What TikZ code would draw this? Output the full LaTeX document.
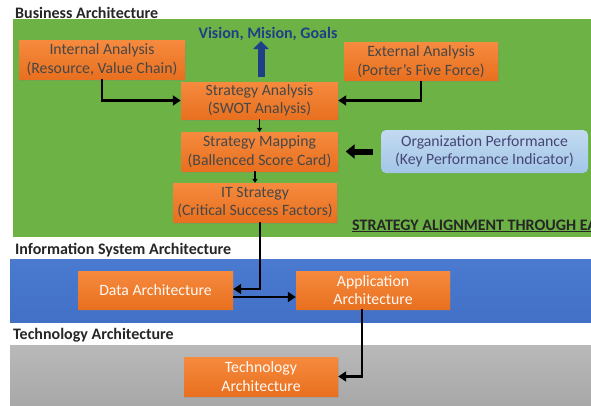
\documentclass[tikz,border=0pt]{standalone}
\usepackage{fontspec}
\setmainfont{Carlito}
\usetikzlibrary{arrows.meta,shadows}
\definecolor{bizgreen}{HTML}{6CB245}
\definecolor{isblue}{HTML}{4270C6}
\definecolor{isbluetop}{HTML}{4A7BD0}
\definecolor{techgray}{HTML}{A8A8A8}
\definecolor{techgraytop}{HTML}{B9B9B9}
\definecolor{orangetop}{HTML}{F68A3E}
\definecolor{orangebot}{HTML}{E8701F}
\definecolor{kpitop}{HTML}{C2DAF0}
\definecolor{kpibot}{HTML}{A3C6E8}
\definecolor{visionblue}{HTML}{1F3F86}
\begin{document}
\begin{tikzpicture}[x=1pt,y=-1pt,
  layer/.style={anchor=base west,inner sep=0pt,text=black!85,font=\bfseries\fontsize{16}{18}\selectfont},
  block/.style={minimum width=#1,minimum height=38pt,inner sep=0pt,align=center,
    top color=orangetop,bottom color=orangebot,text=black!72,
    font=\fontsize{15.75}{18.5}\selectfont,
    drop shadow={shadow xshift=1pt,shadow yshift=-1.5pt,opacity=0.25}},
  block/.default=155,
  isblock/.style={block=#1,text=white!96!orange},
  isblock/.default=155,
  flow/.style={line width=2.6pt,-{Triangle[length=8pt,width=10pt]}},
  link/.style={line width=1.6pt,-{Triangle[length=4pt,width=5pt]}},
  fat/.style={line width=6pt,-{Triangle[length=9pt,width=14pt]}}]
\clip (0,0) rectangle (591,405);
\fill[white] (0,0) rectangle (591,405);

% the three layers
\fill[bizgreen] (13,19) rectangle (591,237);
\fill[top color=isbluetop,bottom color=isblue] (10,259) rectangle (591,322);
\fill[top color=techgraytop,bottom color=techgray] (10,345) rectangle (591,405);
\node[layer] (biz) at (15,18) {Business Architecture};
\node[layer] (isa) at (15,254) {Information System Architecture};
\node[layer] (tech) at (13,339) {Technology Architecture};

% business layer
\node[block=166,minimum height=39pt] (ia) at (102,59.5) {Internal Analysis\\(Resource, Value Chain)};
\node[block=154] (ea) at (421,61.5) {External Analysis\\(Porter's Five Force)};
\node[block=157,minimum height=37pt] (sa) at (259.5,100.5) {Strategy Analysis\\(SWOT Analysis)};
\node[block=156,minimum height=39pt] (sm) at (259.5,151.5) {Strategy Mapping\\(Ballenced Score Card)};
\node[block=164,minimum height=39pt] (it) at (255,202.5) {IT Strategy\\(Critical Success Factors)};
\node[rounded corners=5pt,minimum width=207pt,minimum height=43pt,inner sep=0pt,align=center,
  top color=kpitop,bottom color=kpibot,text=black!60!blue!45!gray,
  font=\fontsize{15.75}{18.5}\selectfont] (op) at (484.5,151.5) {Organization Performance\\(Key Performance Indicator)};
\node[anchor=base,inner sep=0pt,text=visionblue,font=\bfseries\fontsize{16}{18}\selectfont] (vmg) at (268,38) {Vision, Mision, Goals};
\node[anchor=base west,inner sep=0pt,text=black!85,font=\bfseries\fontsize{16}{18}\selectfont] (align) at (352,230)
  {\underline{STRATEGY ALIGNMENT THROUGH EA}};

% information system and technology layers
\node[isblock] (da) at (155.5,290) {Data Architecture};
\node[isblock=154] (aa) at (373,290) {Application\\Architecture};
\node[isblock=154,minimum height=39pt] (ta) at (261,376.5) {Technology\\Architecture};

\coordinate (vbase) at (261,77);
\coordinate (vtip) at (261,41);
\draw[visionblue,line width=7pt,-{Triangle[length=8pt,width=15pt]}] (vbase) -- (vtip);

\draw[flow] (ia.south) |- (sa.west);
\draw[flow] (ea.south) |- (sa.east);
\draw[link] (sa) -- (sm);
\draw[link] ([xshift=-4.5pt]sm.south) -- (it.north);
\draw[fat] ([xshift=-8pt]op.west) -- ([xshift=8pt]sm.east);
\draw[flow] ([xshift=5pt]it.south) |- ([yshift=1pt]da.east);
\draw[flow] ([yshift=-7pt]da.east) -- ([yshift=-7pt]aa.west);
\draw[flow] ([xshift=-11pt]aa.south) |- (ta.east);
\end{tikzpicture}
\end{document}
